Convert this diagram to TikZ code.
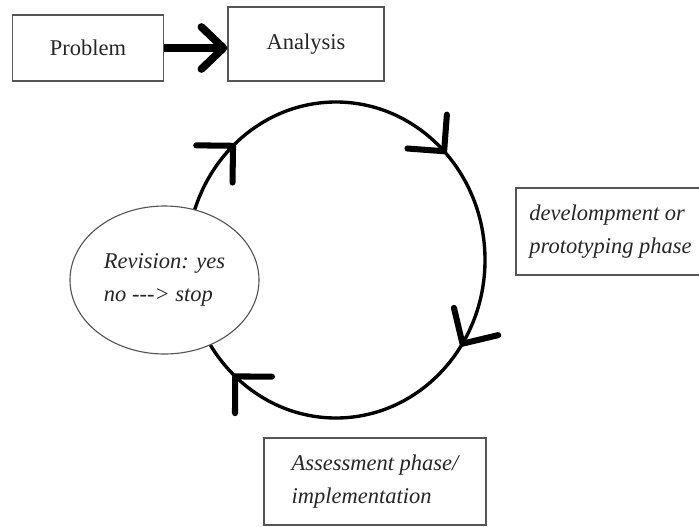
\documentclass[tikz,border=0pt]{standalone}
\usepackage{fontspec}
\setmainfont{Liberation Serif}
\usetikzlibrary{arrows.meta,decorations.markings,shapes.geometric}
\definecolor{boxgray}{RGB}{85,85,85}
\tikzset{
  topbox/.style={draw=boxgray, line width=1pt, text=black!85, font=\fontsize{16}{19}\selectfont},
  phasebox/.style={draw=boxgray, line width=1pt, text=black!85, align=left, font=\fontsize{16}{23}\selectfont\itshape},
  chevron/.tip={Straight Barb[length=0.65cm, width=1.3cm, line width=4.3pt, round]}
}
\begin{document}
\begin{tikzpicture}
  \useasboundingbox (0,0) rectangle (17.475,13.15);
  % the cycle, clockwise
  \draw [line width=2.4pt, postaction={decorate}, decoration={markings,
      mark=at position 0.094 with {\arrow{chevron}},
      mark=at position 0.369 with {\arrow{chevron}},
      mark=at position 0.634 with {\arrow{chevron}},
      mark=at position 0.880 with {\arrow{chevron}}}]
    (8.4,6.65) ++(3.725,0) arc [start angle=0, end angle=-360, x radius=3.725, y radius=3.95];
  \node [topbox, minimum width=3.775cm, minimum height=1.65cm] (problem) at (2.2,11.95) {Problem};
  \node [topbox, minimum width=3.9cm, minimum height=1.85cm] (analysis) at (7.65,12.05) {Analysis};
  \node [phasebox, minimum width=4.725cm, minimum height=2.175cm] (develop) at (15.2625,7.3625) {develompment or\\prototyping phase};
  \node [phasebox, minimum width=5.55cm, minimum height=2.175cm] (assess) at (9.375,1.1125) {Assessment phase/\\implementation};
  \node [phasebox, ellipse, line width=0.8pt, fill=white, minimum width=4.725cm, minimum height=3.7cm] (revision) at (4.1125,6.15) {Revision: yes\\no {-}{-}{-}> stop};
  \draw [line width=5.5pt, -{Straight Barb[length=0.55cm, width=1.05cm, round]}] (problem.east) -- (problem.east -| analysis.west);
\end{tikzpicture}
\end{document}
